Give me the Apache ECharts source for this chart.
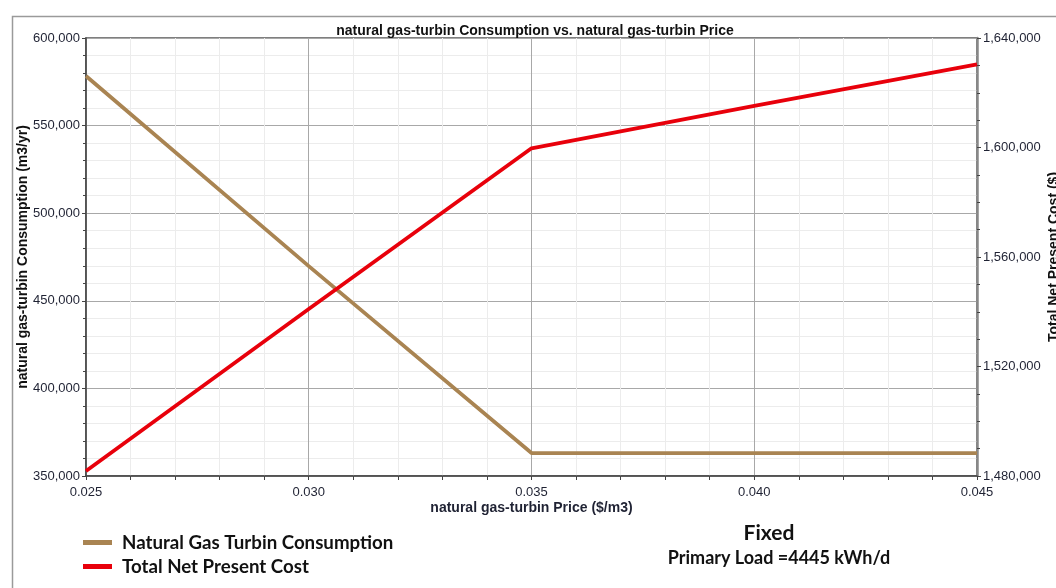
<!DOCTYPE html>
<html>
<head>
<meta charset="utf-8">
<script src="https://cdn.jsdelivr.net/npm/echarts@6/dist/echarts.min.js"></script>
<style>html,body{margin:0;padding:0;background:#fff}#c{width:1056px;height:588px}</style>
</head>
<body>
<div id="c"></div>
<script>
var prices = [0.025, 0.030, 0.035, 0.040, 0.045];
var consumption = [578300, 469800, 363100, 363100, 363100];
var npc = [1481800, 1541000, 1599700, 1615200, 1630400];
var seriesNames = ['Natural Gas Turbin Consumption', 'Total Net Present Cost'];
var titleText = 'natural gas-turbin Consumption vs. natural gas-turbin Price';
var xName = 'natural gas-turbin Price ($/m3)';
var yLeftName = 'natural gas-turbin Consumption (m3/yr)';
var yRightName = 'Total Net Present Cost ($)';

function fmt(v){ return Math.round(v).toLocaleString('en-US'); }

var chart = echarts.init(document.getElementById('c'));
var lblColor = '#1f2233';
var sans = 'Liberation Sans, Arial';
chart.setOption({
  animation: false,
  title: {
    text: titleText, left: 530, textAlign: 'center', top: 19,
    textStyle: {fontFamily: sans, fontSize: 14, fontWeight: 'bold', color: '#111'}
  },
  grid: {left: 86, right: 79, top: 38, bottom: 112, outerBoundsMode: 'none', containLabel: false,
         show: true, borderColor: '#555', borderWidth: 1.5, backgroundColor: 'transparent'},
  legend: {
    orient: 'vertical', left: 83, top: 533, padding: 0, itemWidth: 29, itemHeight: 5, itemGap: 5,
    icon: 'rect',
    data: seriesNames,
    textStyle: {fontFamily: 'Lato', fontWeight: 'bold', fontSize: 18.7, lineHeight: 18, color: '#111', padding: [0,0,0,5]}
  },
  xAxis: {
    type: 'value', min: 0.025, max: 0.045, interval: 0.005,
    name: xName, nameLocation: 'middle', nameGap: 25, nameMoveOverlap: false,
    nameTextStyle: {fontFamily: sans, fontSize: 14, fontWeight: 'bold', color: lblColor},
    axisLine: {lineStyle: {color: '#444', width: 1.5}},
    axisTick: {show: true, length: 4, lineStyle: {color: '#444'}},
    minorTick: {show: true, splitNumber: 5, length: 4, lineStyle: {color: '#444'}},
    axisLabel: {formatter: function(v){return v.toFixed(3);}, margin: 10, fontFamily: sans, fontSize: 13, color: lblColor},
    splitLine: {show: true, lineStyle: {color: '#a8a8a8', width: 1}},
    minorSplitLine: {show: true, lineStyle: {color: '#ececec', width: 1}}
  },
  yAxis: [{
    type: 'value', min: 350000, max: 600000, interval: 50000,
    name: yLeftName, nameLocation: 'middle', nameGap: 56, nameRotate: 90, nameMoveOverlap: false,
    nameTextStyle: {fontFamily: sans, fontSize: 14, fontWeight: 'bold', color: '#111'},
    axisLine: {show: true, lineStyle: {color: '#444', width: 1.5}},
    axisTick: {show: true, length: 4, lineStyle: {color: '#444'}},
    minorTick: {show: true, splitNumber: 5, length: 3, lineStyle: {color: '#444'}},
    axisLabel: {formatter: fmt, margin: 6, fontFamily: sans, fontSize: 13, color: lblColor},
    splitLine: {show: true, lineStyle: {color: '#a8a8a8', width: 1}},
    minorSplitLine: {show: true, lineStyle: {color: '#ececec', width: 1}}
  }, {
    type: 'value', min: 1480000, max: 1640000, interval: 40000, position: 'right',
    name: yRightName, nameLocation: 'middle', nameGap: 70, nameRotate: 90, nameMoveOverlap: false,
    nameTextStyle: {fontFamily: sans, fontSize: 14, fontWeight: 'bold', color: '#111'},
    axisLine: {show: true, lineStyle: {color: '#888', width: 2.5}},
    axisTick: {show: true, length: 4, lineStyle: {color: '#444'}},
    minorTick: {show: true, splitNumber: 4, length: 3, lineStyle: {color: '#444'}},
    axisLabel: {formatter: fmt, margin: 6, fontFamily: sans, fontSize: 13, color: lblColor},
    splitLine: {show: false}, minorSplitLine: {show: false}
  }],
  series: [{
    name: seriesNames[0], type: 'line', yAxisIndex: 0,
    data: prices.map(function(p,i){return [p, consumption[i]];}),
    showSymbol: false, symbol: 'none', color: '#a98452',
    lineStyle: {color: '#a98452', width: 3.8}
  }, {
    name: seriesNames[1], type: 'line', yAxisIndex: 1,
    data: prices.map(function(p,i){return [p, npc[i]];}),
    showSymbol: false, symbol: 'none', color: '#e8000b',
    lineStyle: {color: '#e8000b', width: 3.8}
  }],
  graphic: [
    {type: 'rect', left: 10, top: 14, shape: {width: 1100, height: 640}, style: {fill: 'none', stroke: '#9a9a9a', lineWidth: 1.5}, silent: true},
    {type: 'text', x: 769, y: 533, style: {text: 'Fixed', fontFamily: 'Lato', fontWeight: 'bold', fontSize: 21, fill: '#111', align: 'center', verticalAlign: 'middle'}},
    {type: 'text', x: 779, y: 558, style: {text: 'Primary Load =4445 kWh/d', fontFamily: 'Lato', fontWeight: 'bold', fontSize: 18, fill: '#111', align: 'center', verticalAlign: 'middle'}}
  ]
});
</script>
</body>
</html>
